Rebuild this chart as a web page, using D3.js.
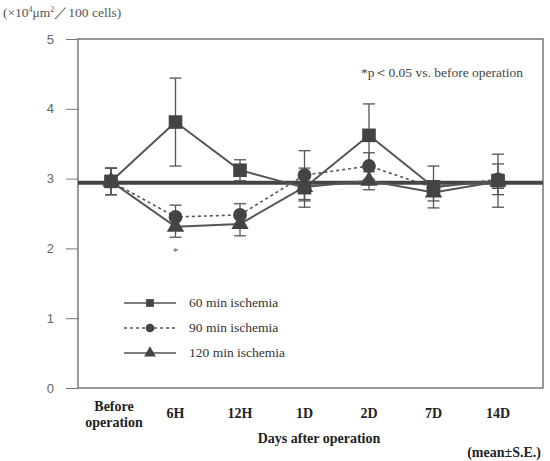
<!DOCTYPE html>
<html lang="en">
<head>
    <meta charset="UTF-8">
    <title>Area after ischemia</title>
    <script src="https://cdnjs.cloudflare.com/ajax/libs/d3/7.8.5/d3.min.js"></script>
    <style>
        body { margin: 0; background: #fff; }
        svg { display: block; }
        .serif { font-family: "Liberation Serif", "DejaVu Serif", serif; }
    </style>
</head>
<body>
<svg width="550" height="461"></svg>

<script>
    // Data
    const categories = ["Before operation", "6H", "12H", "1D", "2D", "7D", "14D"];
    const yTicks = [0, 1, 2, 3, 4, 5];
    const baseline = 2.94; // before-operation reference

    const min60 = [2.96, 3.81, 3.12, 2.87, 3.62, 2.88, 2.97];
    const se60  = [0.19, 0.63, 0.15, 0.28, 0.45, 0.30, 0.38];
    const min90 = [2.96, 2.45, 2.48, 3.05, 3.18, 2.87, 2.99];
    const se90  = [0.19, 0.17, 0.16, 0.35, 0.19, 0.10, 0.22];
    const min120 = [2.96, 2.31, 2.35, 2.88, 2.97, 2.80, 2.96];
    const se120  = [0.19, 0.15, 0.17, 0.20, 0.13, 0.12, 0.10];

    const series = [
        { name: "60 min ischemia", values: min60, se: se60, symbol: d3.symbolSquare, size: 185, dash: null },
        { name: "90 min ischemia", values: min90, se: se90, symbol: d3.symbolCircle, size: 150, dash: "3,3" },
        { name: "120 min ischemia", values: min120, se: se120, symbol: d3.symbolTriangle, size: 130, dash: null }
    ];

    const svg = d3.select("svg");
    const plotL = 78, plotR = 543, plotT = 39, plotB = 388;
    const lineColor = "#555", markColor = "#444", axisColor = "#777";

    const x = d3.scalePoint().domain(categories).range([111, 498]);
    const y = d3.scaleLinear().domain([0, 5]).range([plotB, plotT]);

    // frame
    svg.append("rect")
        .attr("x", plotL).attr("y", plotT)
        .attr("width", plotR - plotL).attr("height", plotB - plotT)
        .attr("fill", "none").attr("stroke", axisColor).attr("stroke-width", 1.5);

    // y axis
    const yAxis = svg.append("g")
        .attr("transform", `translate(${plotL},0)`)
        .call(d3.axisLeft(y).tickValues(yTicks).tickSize(12).tickPadding(12).tickFormat(d3.format("d")));
    yAxis.select(".domain").remove();
    yAxis.selectAll("line").attr("stroke", axisColor);
    yAxis.selectAll("text")
        .attr("fill", "#666")
        .style("font-family", "Liberation Sans, Arial, sans-serif")
        .style("font-size", "13px");

    // x labels
    const xl = svg.append("g").attr("class", "serif")
        .attr("font-size", "14px").attr("font-weight", "bold").attr("fill", "#222");
    categories.forEach(c => {
        const t = xl.append("text").attr("text-anchor", "middle").attr("x", x(c));
        if (c === "Before operation") {
            t.append("tspan").attr("x", x(c) + 3).attr("y", 411).text("Before");
            t.append("tspan").attr("x", x(c) + 3).attr("y", 427).text("operation");
        } else {
            t.attr("y", 418).text(c);
        }
    });

    svg.append("text").attr("class", "serif")
        .attr("x", 319).attr("y", 443).attr("text-anchor", "middle")
        .attr("font-size", "14px").attr("font-weight", "bold").attr("fill", "#222")
        .text("Days after operation");

    svg.append("text").attr("class", "serif")
        .attr("x", 541).attr("y", 457).attr("text-anchor", "end")
        .attr("font-size", "14px").attr("font-weight", "bold").attr("fill", "#222")
        .text("(mean\u00B1S.E.)");

    // unit label
    const unit = svg.append("text").attr("class", "serif")
        .attr("x", 3).attr("y", 17).attr("font-size", "13.5px").attr("fill", "#555");
    unit.append("tspan").text("(\u00D710");
    unit.append("tspan").attr("dy", -5).attr("font-size", "8px").text("4");
    unit.append("tspan").attr("dy", 5).text("\u03BCm");
    unit.append("tspan").attr("dy", -5).attr("font-size", "8px").text("2");
    unit.append("tspan").attr("dy", 5).text("\uFF0F100 cells)");

    svg.append("text").attr("class", "serif")
        .attr("x", 523).attr("y", 77).attr("text-anchor", "end")
        .attr("font-size", "13.5px").attr("fill", "#444")
        .text("*p\uFF1C0.05 vs. before operation");

    // reference line
    svg.append("line")
        .attr("x1", plotL).attr("x2", plotR)
        .attr("y1", y(baseline)).attr("y2", y(baseline))
        .attr("stroke", "#444").attr("stroke-width", 4);

    // error bars
    series.forEach(s => {
        const g = svg.append("g").attr("stroke", lineColor).attr("stroke-width", 1.3);
        s.values.forEach((v, i) => {
            const cx = x(categories[i]);
            g.append("line").attr("x1", cx).attr("x2", cx)
                .attr("y1", y(v - s.se[i])).attr("y2", y(v + s.se[i]));
            [v - s.se[i], v + s.se[i]].forEach(e => {
                g.append("line").attr("x1", cx - 6).attr("x2", cx + 6)
                    .attr("y1", y(e)).attr("y2", y(e));
            });
        });
    });

    // lines
    const line = d3.line().x((d, i) => x(categories[i])).y(d => y(d));
    series.forEach(s => {
        svg.append("path")
            .attr("d", line(s.values))
            .attr("fill", "none")
            .attr("stroke", lineColor)
            .attr("stroke-width", s.dash ? 1.6 : 2)
            .attr("stroke-dasharray", s.dash);
    });

    // markers
    series.forEach(s => {
        svg.append("g").selectAll("path")
            .data(s.values)
            .join("path")
            .attr("transform", (d, i) => `translate(${x(categories[i])},${y(d)})`)
            .attr("d", d3.symbol().type(s.symbol).size(s.size))
            .attr("fill", markColor);
    });

    // significance mark
    svg.append("text").attr("class", "serif")
        .attr("x", x("6H")).attr("y", 255).attr("text-anchor", "middle")
        .attr("font-size", "11px").attr("fill", "#555").text("*");

    // legend
    const legend = svg.append("g").attr("class", "serif");
    series.forEach((s, i) => {
        const ly = 303 + i * 25;
        legend.append("line")
            .attr("x1", 124).attr("x2", 176).attr("y1", ly).attr("y2", ly)
            .attr("stroke", lineColor).attr("stroke-width", s.dash ? 1.4 : 1.6)
            .attr("stroke-dasharray", s.dash);
        legend.append("path")
            .attr("transform", `translate(150,${ly})`)
            .attr("d", d3.symbol().type(s.symbol).size(60))
            .attr("fill", markColor);
        legend.append("text")
            .attr("x", 189).attr("y", ly + 4)
            .attr("font-size", "13.5px").attr("fill", "#333")
            .text(s.name);
    });
</script>
</body>
</html>
